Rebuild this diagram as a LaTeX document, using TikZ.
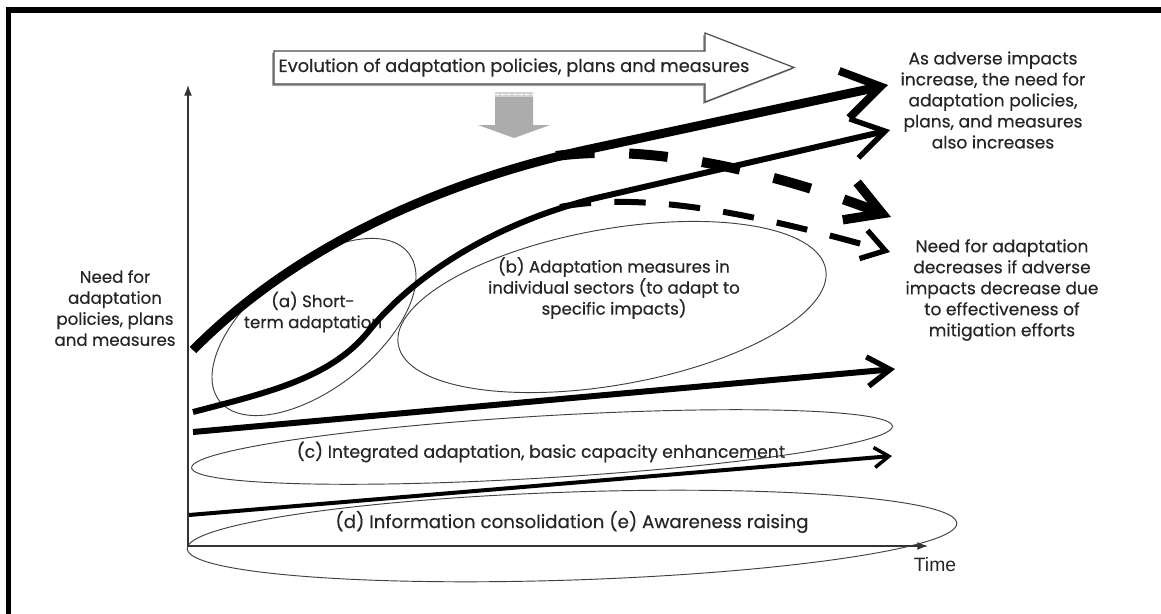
\documentclass[tikz,border=0pt]{standalone}
\usepackage{fontspec}
\setmainfont{Poppins}[FakeBold=0.4]
\newfontfamily\timefont{Liberation Sans}
\usetikzlibrary{arrows.meta}

\begin{document}
\begin{tikzpicture}[x=0.75pt,y=-0.75pt,
  txt/.style={font=\fontsize{12.5}{15.75}\selectfont, text=black!85, align=center, inner sep=0pt},
  ring/.style={draw=black!75, line width=0.7pt},
  axis/.style={draw=black!80, line width=1pt, -{Latex[length=8pt,width=6pt]}},
  trend/.style={draw=black, line cap=butt},
  hollow/.style={draw=black!70, fill=white, line width=0.9pt, line join=miter}
]
\useasboundingbox (0,0) rectangle (1161,614);
\fill[white] (0,0) rectangle (1161,614);

% outer frame (top and left edges only)
\draw[line width=4.1pt, line join=miter] (8.5,614) -- (8.5,10) -- (1161,10);

% named anchor points
\coordinate (O) at (188,546);
\coordinate (ytop) at (188,85);
\coordinate (xend) at (928,546);

% big hollow arrow with caption
\fill[black!35] (272,53) -- (703,53) -- (703,35) -- (792,69.5) -- (703,104) -- (703,86) -- (272,86) -- cycle;
\draw[hollow] (274,51) -- (705,51) -- (705,33) -- (794,67.5) -- (705,102) -- (705,84) -- (274,84) -- cycle;
\node[txt, font=\fontsize{13.35}{16}\selectfont] (evo) at (514,67.5) {Evolution of adaptation policies, plans and measures};

% grey downward arrow
\fill[gray!65] (495,92) -- (533,92) -- (533,125) -- (550,125) -- (514,138) -- (478,125) -- (495,125) -- cycle;
\fill[gray!35] (495,92) rectangle (533,97);
\draw[white, line width=0.8pt, dash pattern=on 3pt off 1.5pt] (495,94.5) -- (533,94.5);

% zone ellipses and their labels
\draw[ring, rotate around={38:(314,327)}] (314,327) ellipse [x radius=120, y radius=62];
\draw[ring, rotate around={10:(612,307)}] (612,307) ellipse [x radius=217, y radius=78];
\draw[ring, rotate around={3.4:(542,447)}] (542,447) ellipse [x radius=351, y radius=31];
\draw[ring, rotate around={1.9:(572,536)}] (572,536) ellipse [x radius=385, y radius=44];

\node[txt] (la) at (313,312) {(a) Short-\\term adaptation};
\node[txt] (lb) at (614,288) {(b) Adaptation measures in\\individual sectors (to adapt to\\specific impacts)};
\node[txt, font=\fontsize{13}{15.75}\selectfont] (lc) at (541,452) {(c) Integrated adaptation, basic capacity enhancement};
\node[txt, font=\fontsize{13.7}{15.75}\selectfont] (ld) at (572,522) {(d) Information consolidation (e) Awareness raising};

% axes
\draw[axis] (O) -- (ytop);
\draw[axis] (O) -- (xend);
\node[font=\timefont\fontsize{14.5}{16}\selectfont, text=black!85, inner sep=0pt] (time) at (935,565) {Time};
\node[txt] (ylabel) at (115,308) {Need for\\adaptation\\policies, plans\\and measures};

% side notes
\node[txt, font=\fontsize{12.8}{15.75}\selectfont] (upnote) at (993,100) {As adverse impacts\\increase, the need for\\adaptation policies,\\plans, and measures\\also increases};
\node[txt, font=\fontsize{12.8}{15.75}\selectfont] (downnote) at (1002,290) {Need for adaptation\\decreases if adverse\\impacts decrease due\\to effectiveness of\\mitigation efforts};

% trend curves
\coordinate (c1s) at (193,350);
\coordinate (c1k) at (590,149);
\coordinate (c1e) at (888,85);
\coordinate (c1d) at (891,217);
\coordinate (c2s) at (193,412);
\coordinate (c2m) at (368,332);
\coordinate (c2k) at (592,199);
\coordinate (c2e) at (890,130);
\coordinate (c2d) at (890,252);
\coordinate (l3s) at (193,432);
\coordinate (l3e) at (895,369);
\coordinate (l4s) at (189,515);
\coordinate (l4e) at (892,456);

% decreasing-need branches (dashed)
\draw[trend, line width=7.5pt, dash pattern=on 29pt off 26pt,
      -{Straight Barb[length=26pt,width=30pt,line width=7pt]}]
  (556,156) .. controls (660,142) and (790,178) .. (c1d);
\draw[trend, line width=4.5pt, dash pattern=on 23.5pt off 17.5pt,
      -{Straight Barb[length=17pt,width=22pt,line width=4pt]}]
  (560,207) .. controls (650,190) and (770,218) .. (c2d);

% increasing-need curves (solid)
\draw[trend, line width=6.75pt, -{Straight Barb[length=28pt,width=36pt,line width=6pt]}]
  (c1s) .. controls (310,232) and (470,175) .. (c1k) -- (c1e);
\draw[trend, line width=4.5pt, -{Straight Barb[length=24pt,width=30pt,line width=4pt]}]
  (c2s) .. controls (270,392) and (330,378) .. (c2m)
        .. controls (405,285) and (480,228) .. (c2k) -- (c2e);
\draw[trend, line width=4.5pt, -{Straight Barb[length=17pt,width=22pt,line width=4pt]}]
  (l3s) -- (l3e);
\draw[trend, line width=3pt, -{Straight Barb[length=11pt,width=15pt,line width=2.6pt]}]
  (l4s) -- (l4e);
\end{tikzpicture}
\end{document}
